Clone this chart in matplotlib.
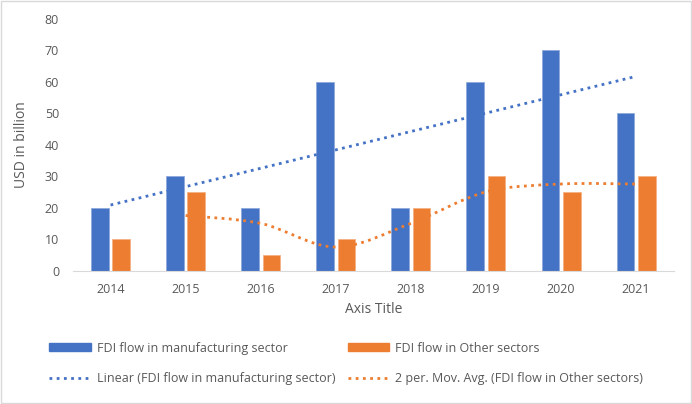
import numpy as np
import pandas as pd
import matplotlib
matplotlib.use('Agg')
import matplotlib.pyplot as plt
from matplotlib.path import Path
from matplotlib.patches import PathPatch, Rectangle
from matplotlib.lines import Line2D

# data
years = ['2014', '2015', '2016', '2017', '2018', '2019', '2020', '2021']
manufacturing = [20, 30, 20, 60, 20, 60, 70, 50]
other_sectors = [10, 25, 5, 10, 20, 30, 25, 30]

BLUE = '#4472C4'
ORANGE = '#ED7D31'
GREY = '#595959'

plt.rcParams['font.family'] = ['Open Sans', 'DejaVu Sans']


# smooth line through points (excel style bezier)
def smooth_path(xs, ys):
    pts = np.column_stack([xs, ys]).astype(float)
    n = len(pts)
    verts = [pts[0]]
    codes = [Path.MOVETO]
    for i in range(n - 1):
        p0 = pts[max(i - 1, 0)]
        p1 = pts[i]
        p2 = pts[i + 1]
        p3 = pts[min(i + 2, n - 1)]
        c1 = p1 + (p2 - p0) / 6.0
        c2 = p2 - (p3 - p1) / 6.0
        verts += [c1, c2, p2]
        codes += [Path.CURVE4] * 3
    return Path(verts, codes)


fig = plt.figure(figsize=(6.92, 4.04), dpi=100)
ax = fig.add_axes([0.1055, 0.33, 0.868, 0.624])

x = np.arange(len(years))
w = 0.235
ax.bar(x - 0.142, manufacturing, w, color=BLUE, edgecolor='#8faadc', lw=0.6, zorder=2)
ax.bar(x + 0.142, other_sectors, w, color=ORANGE, edgecolor='#f4b183', lw=0.6, zorder=2)

# linear trend
k, b = np.polyfit(x, manufacturing, 1)
ax.plot(x, k * x + b, color=BLUE, lw=2, linestyle=(0, (1, 1.6)), zorder=3)

# 2 period moving average
mavg = pd.Series(other_sectors).rolling(2).mean().values
path = smooth_path(x[1:], mavg[1:])
ax.add_patch(PathPatch(path, fill=False, edgecolor=ORANGE, lw=2,
                       linestyle=(0, (1, 1.6)), zorder=3))

ax.set_xlim(-0.5, len(years) - 0.5)
ax.set_ylim(0, 80)
ax.set_yticks(range(0, 81, 10))
ax.set_xticks(x)
ax.set_xticklabels(years)
for s in ['top', 'right', 'left']:
    ax.spines[s].set_visible(False)
ax.spines['bottom'].set_color('#d9d9d9')
ax.tick_params(length=0, labelsize=9, colors=GREY, pad=9)
ax.tick_params(axis='y', pad=10)
ax.set_xlabel('Axis Title', fontsize=10, color=GREY, labelpad=4)
ax.set_ylabel('USD in billion', fontsize=10, color=GREY, labelpad=11)

handles = [
    Rectangle((0, 0), 1, 1, color=BLUE),
    Line2D([], [], color=BLUE, lw=2, linestyle=(0, (1, 1.6))),
    Rectangle((0, 0), 1, 1, color=ORANGE),
    Line2D([], [], color=ORANGE, lw=2, linestyle=(0, (1, 1.6))),
]
labels = [
    'FDI flow in manufacturing sector',
    'Linear (FDI flow in manufacturing sector)',
    'FDI flow in Other sectors',
    '2 per. Mov. Avg. (FDI flow in Other sectors)',
]
leg = fig.legend(handles, labels, ncol=2, loc='center left',
                 bbox_to_anchor=(0.055, 0.1), frameon=False, fontsize=9,
                 handlelength=3.3, handleheight=0.6, handletextpad=0.5,
                 labelspacing=1.4, columnspacing=1.0)
for t in leg.get_texts():
    t.set_color(GREY)

# chart border
fig.patches.append(Rectangle((0.002, 0.003), 0.996, 0.994, transform=fig.transFigure,
                             fill=False, edgecolor='#d9d9d9', lw=1))

fig.savefig('out.png', dpi=100)
